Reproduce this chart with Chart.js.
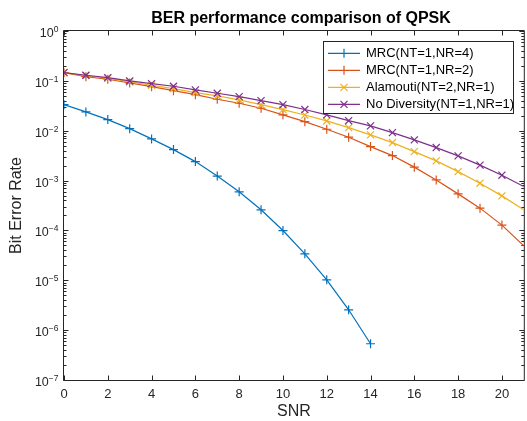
<!DOCTYPE html>
<html><head><meta charset="utf-8">
<script src="https://cdn.jsdelivr.net/npm/chart.js@4/dist/chart.umd.min.js"></script>
<style>html,body{margin:0;padding:0;overflow:hidden;background:#fff}canvas{display:block}</style>
</head><body>
<canvas id="c" width="530" height="421"></canvas>
<script>
// ---- data ----
const snr = [0,1,2,3,4,5,6,7,8,9,10,11,12,13,14,15,16,17,18,19,20,21];
const xTickValues = [0,2,4,6,8,10,12,14,16,18,20];
const yDecades = [-7,-6,-5,-4,-3,-2,-1,0];
const seriesNames = ['MRC(NT=1,NR=4)','MRC(NT=1,NR=2)','Alamouti(NT=2,NR=1)','No Diversity(NT=1,NR=1)'];
const mrc4 = [0.0333,0.0238,0.0167,0.0110,0.00685,0.00418,0.00240,0.00123,0.000594,0.000259,9.95e-5,3.40e-5,1.02e-5,2.56e-6,5.33e-7];
const mrc2 = [0.146,0.1214,0.1076,0.0908,0.0765,0.0636,0.0529,0.0428,0.0356,0.0282,0.0208,0.0152,0.0107,0.00741,0.00480,0.00317,0.00186,0.00103,0.000541,0.000280,0.000128,4.91e-5];
const alamouti = [0.146,0.1271,0.1127,0.0951,0.0817,0.0698,0.0580,0.0498,0.0414,0.0333,0.0265,0.0207,0.0157,0.01154,0.00824,0.00578,0.00381,0.00248,0.00151,0.000887,0.000493,0.000259];
const noDiv = [0.146,0.1295,0.1159,0.0995,0.0879,0.0780,0.0657,0.0564,0.0482,0.0401,0.0333,0.0266,0.0208,0.0159,0.0125,0.00916,0.00654,0.00459,0.00313,0.00204,0.00128,0.000762];

const FONT = '"Liberation Sans", Arial, Helvetica, sans-serif';
const AX = '#262626';
const COLORS = ['#0072BD','#D95319','#EDB120','#7E2F8E'];
const STYLES = ['cross','cross','crossRot','crossRot'];

function pts(arr){ return arr.map((v,i)=>({x:snr[i], y:v})); }

function mkSet(i, arr, order){
  return {
    label: seriesNames[i], data: pts(arr),
    borderColor: COLORS[i], backgroundColor: COLORS[i],
    borderWidth: 1.2, pointStyle: STYLES[i],
    pointRadius: c => (c.raw && c.raw.x > 20) ? 0 : (STYLES[i]==='cross' ? 4.5 : 5),
    pointBorderWidth: 1.2, pointHoverRadius: 0,
    tension: 0, fill: false, order: order
  };
}

const deco = {
  id: 'deco',
  beforeDatasetsDraw(chart){
    const {ctx, chartArea: a, scales: {x, y}} = chart;
    ctx.save();
    ctx.strokeStyle = AX; ctx.lineWidth = 1;
    const L = a.left - 0.5, R = a.right + 0.5, T = a.top - 0.5, B = a.bottom + 0.5;
    ctx.beginPath();
    ctx.moveTo(L, T); ctx.lineTo(L, B); ctx.lineTo(R, B); ctx.lineTo(R, T); ctx.lineTo(L, T);
    xTickValues.forEach(v => {
      const px = Math.round(x.getPixelForValue(v)) + 0.5;
      ctx.moveTo(px, B); ctx.lineTo(px, B - 5);
      ctx.moveTo(px, T); ctx.lineTo(px, T + 5);
    });
    yDecades.forEach(k => {
      const py = Math.round(y.getPixelForValue(Math.pow(10, k))) + 0.5;
      ctx.moveTo(L, py); ctx.lineTo(L + 5, py);
      ctx.moveTo(R, py); ctx.lineTo(R - 5, py);
      if (k < 0) {
        for (let m = 2; m <= 9; m++) {
          const pm = Math.round(y.getPixelForValue(m * Math.pow(10, k))) + 0.5;
          ctx.moveTo(L, pm); ctx.lineTo(L + 3, pm);
          ctx.moveTo(R, pm); ctx.lineTo(R - 3, pm);
        }
      }
    });
    ctx.stroke();
    ctx.restore();
  },
  afterDraw(chart){
    const {ctx, scales: {y}} = chart;
    ctx.save();
    ctx.fillStyle = '#000';
    ctx.font = 'bold 16px ' + FONT;
    ctx.textAlign = 'center'; ctx.textBaseline = 'middle';
    ctx.fillText('BER performance comparison of QPSK', 301, 19);
    ctx.fillStyle = AX;
    ctx.textAlign = 'right'; ctx.textBaseline = 'alphabetic';
    yDecades.forEach(k => {
      const py = y.getPixelForValue(Math.pow(10, k));
      const exp = k < 0 ? '\u2212' + (-k) : String(k);
      ctx.font = '8.5px ' + FONT;
      const ew = ctx.measureText(exp).width;
      const xr = 58.5;
      ctx.fillText(exp, xr, py + 1);
      ctx.font = '12.5px ' + FONT;
      ctx.fillText('10', xr - ew, py + 6);
    });
    const bx = 323.5, by = 41.5, bw = 190, bh = 72;
    ctx.fillStyle = '#fff';
    ctx.fillRect(bx, by, bw, bh);
    ctx.strokeStyle = AX; ctx.lineWidth = 1;
    ctx.strokeRect(bx, by, bw, bh);
    chart.data.datasets.forEach((ds, i) => {
      const ry = 53.3 + i * 17;
      ctx.strokeStyle = ds.borderColor; ctx.lineWidth = 1.2;
      ctx.beginPath();
      ctx.moveTo(328, ry); ctx.lineTo(360, ry);
      if (STYLES[i] === 'cross') {
        ctx.moveTo(344 - 4.5, ry); ctx.lineTo(344 + 4.5, ry);
        ctx.moveTo(344, ry - 4.5); ctx.lineTo(344, ry + 4.5);
      } else {
        const d = 3.5;
        ctx.moveTo(344 - d, ry - d); ctx.lineTo(344 + d, ry + d);
        ctx.moveTo(344 - d, ry + d); ctx.lineTo(344 + d, ry - d);
      }
      ctx.stroke();
      ctx.fillStyle = '#000';
      ctx.font = '13px ' + FONT;
      ctx.textAlign = 'left'; ctx.textBaseline = 'middle';
      ctx.fillText(ds.label, 366, ry + 0.5);
    });
    ctx.restore();
  }
};

new Chart(document.getElementById('c'), {
  type: 'line',
  data: { datasets: [ mkSet(0, mrc4, 3), mkSet(1, mrc2, 2), mkSet(2, alamouti, 1), mkSet(3, noDiv, 0) ] },
  options: {
    responsive: false, animation: false, devicePixelRatio: 1,
    layout: { padding: { top: 31, right: 1, left: 0, bottom: 0 } },
    plugins: { legend: { display: false }, title: { display: false }, tooltip: { enabled: false } },
    scales: {
      x: {
        type: 'linear', min: 0, max: 21,
        grid: { display: false, drawTicks: false }, border: { display: false },
        afterBuildTicks(s) { s.ticks = xTickValues.map(v => ({ value: v })); },
        ticks: { font: { family: FONT, size: 13 }, color: AX, padding: 7, maxRotation: 0, autoSkip: false },
        title: { display: true, text: 'SNR', font: { family: FONT, size: 16 }, color: AX, padding: { top: 0, bottom: 0 } },
        afterFit(s) { s.height = 41; }
      },
      y: {
        type: 'logarithmic', min: 1e-7, max: 1,
        grid: { display: false, drawTicks: false }, border: { display: false },
        ticks: { display: false },
        title: { display: true, text: 'Bit Error Rate', font: { family: FONT, size: 16 }, color: AX, padding: { top: 7.4, bottom: 0 } },
        afterFit(s) { s.width = 64; }
      }
    }
  },
  plugins: [deco]
});
</script>
</body></html>
